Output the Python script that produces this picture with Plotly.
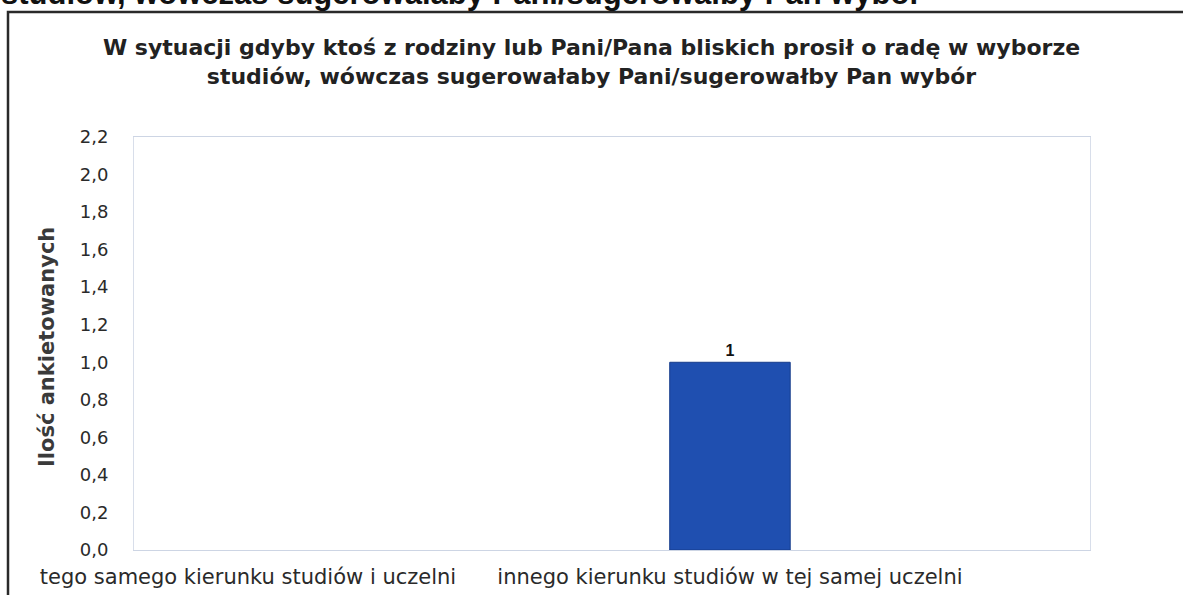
import plotly.graph_objects as go

# Survey answers and respondent counts
categories = [
    "tego samego kierunku studiów i uczelni",
    "innego kierunku studiów w tej samej uczelni",
]
counts = [0, 1]
bar_labels = ["", "1"]

chart_title = ("W sytuacji gdyby ktoś z rodziny lub Pani/Pana bliskich prosił o radę w wyborze<br>"
               "studiów, wówczas sugerowałaby Pani/sugerowałby Pan wybór")
heading_text = "studiów, wówczas sugerowałaby Pani/sugerowałby Pan wybór"
y_title = "Ilość ankietowanych"

W, H = 1183, 595
ML, MR, MT, MB = 134, 93, 137, 45
plot_w = W - ML - MR
plot_h = H - MT - MB


def px_x(p):
    return (p - ML) / plot_w


def px_y(p):
    return (H - MB - p) / plot_h


# zero-height bars get no outline
outline_widths = [1 if c > 0 else 0 for c in counts]

fig = go.Figure(
    go.Bar(
        x=list(range(len(categories))),
        y=counts,
        width=0.25,
        marker=dict(color="#1f4fb0", line=dict(color="#173d8c", width=outline_widths)),
        text=bar_labels,
        textposition="outside",
        textfont=dict(family="Liberation Sans", size=16, color="#111111", weight="bold"),
        cliponaxis=False,
    )
)

fig.update_layout(
    width=W,
    height=H,
    margin=dict(l=ML, r=MR, t=MT, b=MB),
    paper_bgcolor="white",
    plot_bgcolor="white",
    separators=", ",
    showlegend=False,
    title=dict(
        text=chart_title,
        x=0.5,
        xref="container",
        xanchor="center",
        y=1 - 55 / H,
        yref="container",
        yanchor="middle",
        font=dict(family="DejaVu Sans", size=22, color="#222222", weight="bold"),
    ),
    xaxis=dict(
        tickmode="array",
        tickvals=list(range(len(categories))),
        ticktext=categories,
        range=[-0.2365, 1.747],
        automargin=False,
        showgrid=False,
        zeroline=False,
        showline=True,
        mirror=True,
        linecolor="#cdd5e4",
        linewidth=1,
        ticks="",
        ticklabelstandoff=8,
        tickfont=dict(family="DejaVu Sans", size=21, color="#2a2a2a"),
    ),
    yaxis=dict(
        range=[0, 2.2],
        dtick=0.2,
        tickformat=".1f",
        automargin=False,
        showgrid=False,
        zeroline=False,
        showline=True,
        mirror=True,
        linecolor="#d8deea",
        linewidth=1,
        ticks="",
        ticklabelstandoff=21,
        tickfont=dict(family="DejaVu Sans", size=18, color="#2a2a2a"),
    ),
)

# Rotated axis title
fig.add_annotation(
    text=y_title,
    xref="paper", yref="paper",
    x=px_x(47), y=px_y(347),
    xanchor="center", yanchor="middle",
    textangle=-90,
    showarrow=False,
    font=dict(family="DejaVu Sans", size=21, color="#3a3a3a", weight="bold"),
)

# Page heading running above the frame
fig.add_annotation(
    text=heading_text,
    xref="paper", yref="paper",
    x=px_x(-1), y=px_y(-6),
    xanchor="left", yanchor="middle",
    showarrow=False,
    font=dict(family="Liberation Sans", size=31, color="#111111", weight="bold"),
)

# Frame around the chart
fig.add_shape(
    type="rect",
    xref="paper", yref="paper",
    x0=px_x(8), x1=px_x(W + 40),
    y0=px_y(12), y1=px_y(H + 40),
    line=dict(color="#2a2a2a", width=2.5),
    fillcolor="rgba(0,0,0,0)",
    layer="above",
)

fig.write_html("out.html")
